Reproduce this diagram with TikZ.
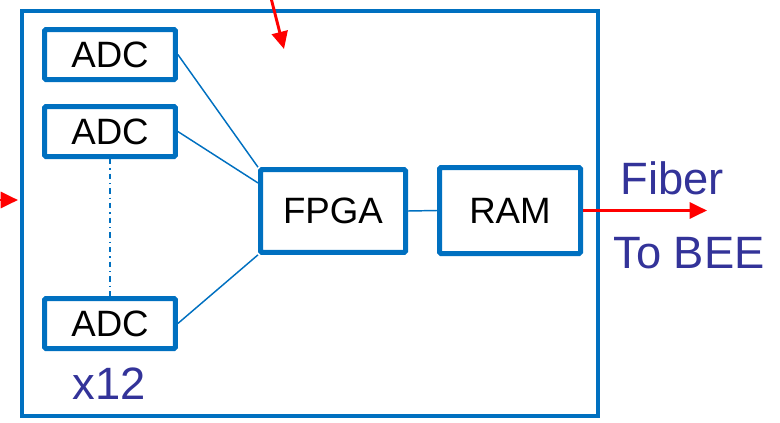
\documentclass[tikz,border=0pt]{standalone}
\usepackage{fontspec}
\setmainfont{Liberation Sans}
\usepackage{tikz}
\usetikzlibrary{arrows.meta,positioning,calc}
\usepackage{xcolor}
\definecolor{boxblue}{RGB}{0,112,192}
\definecolor{textblue}{RGB}{51,51,153}

\begin{document}
\begin{tikzpicture}[x=0.75pt, y=-0.75pt,
    block/.style={draw=boxblue, line width=3.75pt, fill=white, rounded corners=1pt,
        font=\fontsize{27.5}{32}\selectfont, inner sep=0pt},
    wire/.style={boxblue, line width=1.1pt},
    redarrow/.style={red, line width=2.2pt, -{Triangle[length=13pt, width=12pt]}},
    label/.style={text=textblue, font=\fontsize{34}{40}\selectfont, inner sep=0pt}]
    \useasboundingbox (0,0) rectangle (780,422);

    % Board outline
    \draw[boxblue, line width=3.6pt] (22,11) rectangle (598,416);

    % ADC boxes
    \foreach \name/\ypos in {adca/54.5, adcb/131.5, adcc/323.5} {
        \node[block, minimum width=98pt, minimum height=37.5pt] (\name) at (110,\ypos) {ADC};
    }
    \node[label] (count) at (109,384) {x12};

    % FPGA and RAM
    \node[block, minimum width=108.75pt, minimum height=62pt] (fpga) at (333,211) {FPGA};
    \node[block, minimum width=105.75pt, minimum height=64.5pt] (ram) at (510,210.5) {RAM};

    % Connections
    \draw[wire, dash pattern=on 4pt off 3pt on 1pt off 3pt] (adcb.south) -- (adcc.north);
    \draw[wire] (adca.east) -- (fpga.north west);
    \draw[wire] (adcb.east) -- ($(fpga.north west)!0.18!(fpga.south west)$);
    \draw[wire] (adcc.east) -- (fpga.south west);
    \draw[wire] (fpga.east) -- (ram.west);

    % Inputs and output
    \coordinate (topin) at (271,-2);
    \coordinate (topend) at (284,49);
    \coordinate (leftin) at (-2,200);
    \coordinate (leftend) at (18,200);
    \coordinate (fiberend) at (707,210.5);
    \draw[redarrow] (topin) -- (topend);
    \draw[redarrow] (leftin) -- (leftend);
    \draw[redarrow] (ram.east) -- (fiberend);

    \node[label] (fiber) at (672,178) {Fiber};
    \node[label] (bee) at (689,253) {To BEE};
\end{tikzpicture}
\end{document}
